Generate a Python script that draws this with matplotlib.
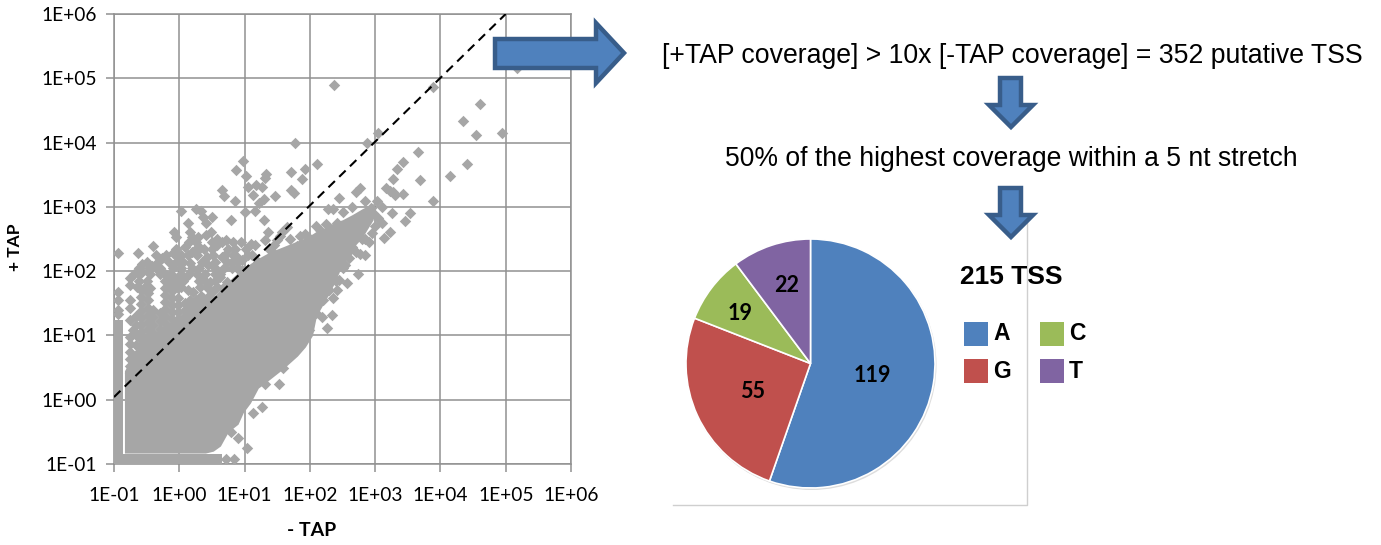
import numpy as np
import matplotlib
matplotlib.use('Agg')
import matplotlib.pyplot as plt
from matplotlib.patches import Polygon, Rectangle, Circle

# log10 coverage, single points outside the solid mass
minus_tap_log = [2.37, 1.78, 2.88, 3.05, 0.98, 0.87, 1.02, 1.33, 1.32, 1.71, 1.93, 1.88, 2.11, 0.66, 0.69, 0.86,
                 1.06, 1.18, 1.27, 1.13, 1.47, 1.29, 1.22, 1.71, 1.75, 1.01, 1.16, 2.45, 2.70, 2.77, 2.85, 3.03,
                 3.16, 3.28, 3.33, 3.28, 0.03, 0.26, 0.33, 0.50, 0.13, 0.37, 0.41, 0.79, 1.30, 1.36, -0.08, -0.05,
                 0.17, 0.20, 0.29, 0.41, 0.49, 0.58, 0.72, 0.83, -0.40, 1.10, 1.58, 1.65, 1.50, 1.93, 2.28, 2.36,
                 2.51, 2.65, 3.26, 3.23, 3.14, 2.80, 3.11, 3.05,
                 # wedge under the 1E+03 line
                 2.16, 2.24, 2.42, 2.54, 2.67, 2.77, 2.93, 2.97, 2.88, 2.36, 2.47, 2.62, 2.73, 2.31, 2.16, 2.01,
                 1.81, 2.65, 2.27, 2.57,
                 # far right
                 3.89, 5.18, 4.61, 4.35, 4.55, 4.94, 3.66, 3.43, 3.69, 4.40, 4.14, 3.89, 3.43, 3.23, 3.31, 3.54, 3.45,
                 # upper left
                 -0.94, -0.63, -0.26, -0.57, -0.42, -0.10, -0.02, -0.57, -0.29, 0.09, 0.20, 0.32, 0.43, 0.58, 0.66,
                 0.73, 0.44, 0.96, -0.75, -0.75, -0.94, -0.94, -0.75, -0.75, -0.75, -0.71, -0.45, 0.35, 0.47, 0.09,
                 0.21, 0.63, 0.73, 0.67, 0.50, 0.37, 0.24, 0.13, 0.81, 0.96, 0.89, 0.17, 1.06, 1.16, 1.32, 1.39,
                 # low count columns
                 -0.59, -0.59, -0.59, -0.59, -0.59, -0.59, -0.59, -0.59, -0.59, -0.59, -0.59, -0.59,
                 -0.48, -0.48, -0.48, -0.48, -0.48, -0.48, -0.48, -0.48, -0.48, -0.48,
                 -0.22, -0.22, -0.22, -0.22, -0.22, -0.22, -0.22, -0.22, -0.22,
                 -0.11, -0.11, -0.11, -0.11, -0.11, -0.11, -0.11, -0.11, -0.11,
                 -0.02, -0.02, -0.02, -0.02, -0.02, -0.02, -0.02,
                 -0.75, -0.75, -0.75, -0.75, -0.75, -0.75,
                 -0.67, -0.67, -0.67, -0.67, -0.67, -0.67,
                 -0.40, -0.40, -0.40, -0.40, -0.40, -0.30, -0.30, -0.30, -0.30,
                 0.09, 0.09, 0.09, 0.17, 0.17, 0.25, 0.25, 0.33, 0.33, 0.45, 0.45, 0.45,
                 -0.94, -0.94,
                 # lower right edge
                 2.27, 2.19, 2.34, 2.36, 2.24, 2.13, 2.42, 2.57, 2.45, 2.73, 2.54, 2.85, 2.62, 2.77, 1.85, 1.98,
                 1.52, 1.32, 1.13, 1.27, 1.04, 0.90, 0.79, 0.72, 0.84, 1.59,
                 2.10, 2.20, 2.30, 2.40, 2.50, 2.60, 2.70, 2.85, 2.95, 3.00, 3.10, 2.90,
                 # band above the line
                 0.15, 0.25, 0.50, 0.65, 0.95,
                 -0.05, 0.25, 0.38, 0.50, 0.75, 0.85, 1.02,
                 -0.35, -0.20, 0.02, 0.13, 0.27, 0.52, 0.70, 0.82, 1.12,
                 -0.50, -0.33, -0.15, -0.05, 0.05, 0.35, 0.55, 0.80, 0.90, 1.20,
                 -0.62, -0.47, -0.35, -0.10, 0.02, 0.20, 0.30, 0.55, 0.68, 0.88,
                 -0.70, -0.62, -0.45, -0.30, -0.12, 0.02, 0.15, 0.27, 0.40, 0.55, 0.62,
                 -0.62, -0.50, -0.15, -0.05, 0.05, 0.30, 0.40, 0.55,
                 -0.65, -0.52, -0.12, 0.03, 0.32, 0.42, 0.58,
                 1.55, 1.70, 1.85, 2.00, 2.10, 1.45]
plus_tap_log = [4.89, 3.99, 3.99, 4.15, 3.71, 3.57, 3.48, 3.51, 3.45, 3.54, 3.59, 3.43, 3.67, 3.26, 3.17, 3.09,
                3.31, 3.34, 3.31, 3.18, 3.17, 3.12, 3.06, 3.26, 3.21, 2.92, 2.93, 3.14, 3.23, 3.29, 3.09, 3.09,
                3.29, 3.23, 3.59, 3.43, 2.93, 2.97, 2.93, 2.84, 2.75, 2.84, 2.75, 2.79, 2.79, 2.61, 2.61, 2.53,
                2.61, 2.53, 2.53, 2.56, 2.61, 2.50, 2.48, 2.45, 2.39, 2.42, 2.61, 2.69, 2.48, 2.58, 2.97, 2.97,
                2.92, 3.00, 2.90, 2.61, 2.51, 2.50, 3.00, 2.83,
                2.64, 2.73, 2.75, 2.64, 2.79, 2.84, 2.98, 2.90, 2.84, 2.53, 2.59, 2.59, 2.69, 2.41, 2.48, 2.39,
                2.39, 2.37, 2.59, 2.48,
                4.86, 5.16, 4.60, 4.33, 4.12, 4.15, 3.85, 3.70, 3.42, 3.67, 3.48, 3.09, 3.20, 3.25, 3.18, 2.90, 2.78,
                2.28, 2.28, 2.20, 2.11, 2.08, 2.28, 2.22, 1.99, 2.05, 2.37, 2.30, 2.36, 2.22, 2.41, 2.22,
                2.14, 2.09, 2.17, 1.89, 1.78, 1.67, 1.55, 1.55, 1.43, 1.24, 1.08, 1.74, 1.89, 1.83, 1.89,
                1.67, 1.91, 1.83, 1.74, 1.67, 1.58, 1.52, 1.71, 2.05, 2.02, 2.22, 2.13, 2.25, 2.41, 2.48, 2.33,
                1.71, 1.60, 1.49, 1.38, 1.27, 1.16, 1.05, 0.94, 0.84, 0.73, 0.62, 0.51,
                1.66, 1.55, 1.43, 1.32, 1.21, 1.10, 0.99, 0.88, 0.77, 0.66,
                1.96, 1.85, 1.74, 1.63, 1.52, 1.41, 1.30, 1.19, 1.08,
                1.91, 1.80, 1.69, 1.58, 1.47, 1.36, 1.25, 1.14, 1.03,
                1.91, 1.74, 1.58, 1.47, 1.36, 1.25, 1.14,
                0.97, 0.86, 0.75, 0.64, 0.53, 0.42,
                1.30, 1.16, 1.00, 0.85, 0.70, 0.55,
                1.40, 1.28, 1.16, 1.04, 0.92, 1.35, 1.22, 1.10, 0.98,
                1.50, 1.40, 1.30, 1.45, 1.55, 1.45, 1.55, 1.62, 1.52, 1.72, 1.62, 1.52,
                1.40, 1.33,
                1.12, 1.29, 1.32, 1.58, 1.67, 1.66, 1.71, 1.81, 1.86, 1.95, 2.09, 2.25, 2.33, 2.27, 0.88, 1.08,
                0.24, 0.24, -0.21, -0.11, -0.75, -0.60, -0.50, -0.92, -0.92, 0.49,
                1.35, 1.55, 1.70, 1.85, 2.05, 2.20, 2.30, 2.50, 2.60, 2.70, 2.75, 2.45,
                2.45, 2.45, 2.45, 2.45, 2.45,
                2.35, 2.35, 2.35, 2.35, 2.35, 2.35, 2.35,
                2.25, 2.25, 2.25, 2.25, 2.25, 2.25, 2.25, 2.25, 2.25,
                2.15, 2.15, 2.15, 2.15, 2.15, 2.15, 2.15, 2.15, 2.15, 2.15,
                2.05, 2.05, 2.05, 2.05, 2.05, 2.05, 2.05, 2.05, 2.05, 2.05,
                1.95, 1.95, 1.95, 1.95, 1.95, 1.95, 1.95, 1.95, 1.95, 1.95, 1.95,
                1.85, 1.85, 1.85, 1.85, 1.85, 1.85, 1.85, 1.85,
                1.75, 1.75, 1.75, 1.75, 1.75, 1.75, 1.75,
                2.55, 2.50, 2.55, 2.50, 2.70, 2.40]

# solid mass, upper and lower edge per column
mass_x = [-0.84, -0.68, -0.52, -0.37, -0.22, -0.06, 0.09, 0.24, 0.40, 0.52, 0.63, 0.75, 0.90, 0.98, 1.09, 1.21,
          1.39, 1.59, 1.81, 1.93, 2.04, 2.10, 2.24, 2.36, 2.50, 2.65, 2.80, 2.97]
mass_top = [0.45, 0.75, 0.95, 1.05, 1.15, 1.25, 1.35, 1.42, 1.50, 1.60, 1.72, 1.84, 1.98, 2.05, 2.12, 2.20,
            2.30, 2.38, 2.47, 2.52, 2.58, 2.62, 2.68, 2.75, 2.80, 2.88, 2.97, 3.06]
mass_bottom = [-0.83, -0.83, -0.83, -0.83, -0.83, -0.83, -0.83, -0.83, -0.83, -0.80, -0.72, -0.50, -0.38, -0.20,
               -0.05, 0.18, 0.32, 0.48, 0.68, 0.82, 1.00, 1.30, 1.55, 1.78, 2.10, 2.35, 2.52, 2.80]

# count of 0.1 in one library: column at the left edge and row at the bottom
column_x = [-1.0, -0.86]
column_top = [1.24, 1.24]
row_x = [-1.0, 0.66]
row_top = [-0.85, -0.85]

diag_x = [0.1, 1e5]
diag_y = [1.1, 1e6]

tick_labels = ['1E-01', '1E+00', '1E+01', '1E+02', '1E+03', '1E+04', '1E+05', '1E+06']
tick_vals = [0.1, 1, 10, 100, 1e3, 1e4, 1e5, 1e6]

pie_labels = ['A', 'G', 'C', 'T']
pie_counts = [119, 55, 19, 22]
pie_colors = ['#4F81BD', '#C0504D', '#9BBB59', '#8064A2']

W, H = 1381, 545
GRAY = '#a6a6a6'
GRID = '#919191'
UI = 'Lato'
ARIAL = 'Liberation Sans'

fig = plt.figure(figsize=(W / 100, H / 100), dpi=100)


def box(x0, y0, x1, y1):
    # pixel box to figure fraction
    return [x0 / W, 1 - y1 / H, (x1 - x0) / W, (y1 - y0) / H]


ax = fig.add_axes(box(114, 14, 571, 464))
ax.set_xscale('log')
ax.set_yscale('log')
ax.set_xlim(0.1, 1e6)
ax.set_ylim(0.1, 1e6)
ax.set_axisbelow(True)
ax.grid(True, which='major', color=GRID, lw=1.1)
for s in ax.spines.values():
    s.set_color(GRID)
    s.set_linewidth(1.1)
ax.set_xticks(tick_vals)
ax.set_xticklabels(tick_labels, fontsize=13.8, family=UI)
ax.set_yticks(tick_vals)
ax.set_yticklabels(tick_labels, fontsize=13.8, family=UI)
ax.minorticks_off()
ax.tick_params(axis='x', length=5.5, width=1.1, color=GRID, pad=11)
ax.tick_params(axis='y', length=5.5, width=1.1, color=GRID, pad=7)
ax.set_xlabel('- TAP', fontsize=14, fontweight='bold', family=UI, va='center')
ax.set_ylabel('+ TAP', fontsize=12.5, fontweight='bold', family=UI, va='center')
ax.xaxis.set_label_coords((312 - 114) / 457, -(530 - 464) / 450)
ax.yaxis.set_label_coords((15 - 114) / 457, (464 - 247) / 450)

ax.fill_between(10.0 ** np.array(mass_x), 10.0 ** np.array(mass_bottom), 10.0 ** np.array(mass_top),
                color=GRAY, lw=0, zorder=3)
ax.fill_between(10.0 ** np.array(column_x), 0.1, 10.0 ** np.array(column_top), color=GRAY, lw=0, zorder=3)
ax.fill_between(10.0 ** np.array(row_x), 0.1, 10.0 ** np.array(row_top), color=GRAY, lw=0, zorder=3)
ax.scatter(10.0 ** np.array(minus_tap_log), 10.0 ** np.array(plus_tap_log), marker='D', s=34,
           color=GRAY, linewidths=0, zorder=3)
ax.plot(diag_x, diag_y, color='black', lw=1.5, linestyle=(0, (4.3, 2.9)), zorder=4)

# overlay in pixel coordinates for the annotations
ov = fig.add_axes([0, 0, 1, 1], zorder=5)
ov.set_xlim(0, W)
ov.set_ylim(H, 0)
ov.axis('off')
ov.patch.set_alpha(0)

# pasted chart frame
ov.plot([673, 1027.5, 1027.5], [505, 505, 215], color='#cfcfcf', lw=1)

ov.text(1012, 56, '[+TAP coverage] > 10x [-TAP coverage] = 352 putative TSS', ha='center', va='center',
        fontsize=19.2, family=ARIAL)
ov.text(1011, 159, '50% of the highest coverage within a 5 nt stretch', ha='center', va='center',
        fontsize=19.1, family=ARIAL)


def block_arrow(pts):
    ov.add_patch(Polygon(pts, closed=True, fc='#4F81BD', ec='#385D8A', lw=3.2, joinstyle='miter', zorder=6))


block_arrow([(495, 39), (596, 39), (596, 23), (624, 53), (596, 83), (596, 68), (495, 68)])
for dy in (0, 110):
    block_arrow([(1000, 78 + dy), (1021, 78 + dy), (1021, 105 + dy), (1033, 105 + dy), (1011, 127 + dy),
                 (989, 105 + dy), (1000, 105 + dy)])

# pie, soft rim under it
ov.add_patch(Circle((811.5, 365), 125, fc='#dddddd', ec='none', zorder=2))
pax = fig.add_axes(box(686, 239, 935, 488), zorder=6)
pax.pie(pie_counts, colors=pie_colors, startangle=90, counterclock=False, radius=1,
        wedgeprops={'edgecolor': 'white', 'linewidth': 1.2})
pax.set_xlim(-1, 1)
pax.set_ylim(-1, 1)
pax.patch.set_alpha(0)

lab = fig.add_axes([0, 0, 1, 1], zorder=7)
lab.set_xlim(0, W)
lab.set_ylim(H, 0)
lab.axis('off')
lab.patch.set_alpha(0)
for val, (x, y) in zip(pie_counts, [(872, 375), (753, 391), (740, 313), (787, 286)]):
    lab.text(x, y, str(val), ha='center', va='center', fontsize=15.5, fontweight='bold', family=UI)

lab.text(960, 277, '215 TSS', ha='left', va='center', fontsize=19, fontweight='bold', family=ARIAL)
for name, col, (x, y) in zip(pie_labels, pie_colors, [(964, 322), (964, 359), (1040, 322), (1040, 359)]):
    lab.add_patch(Rectangle((x, y), 24, 24, fc=col, ec='none'))
    lab.text(x + 29, y + 12, name, ha='left', va='center', fontsize=16.5, fontweight='bold', family=ARIAL)

fig.savefig('out.png', dpi=100)
